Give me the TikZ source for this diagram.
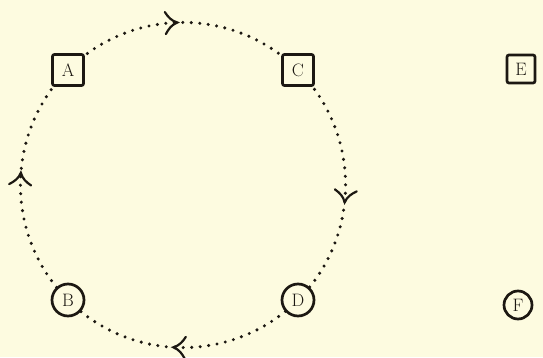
\documentclass[tikz,border=0pt]{standalone}
\usepackage{fontspec}
\usetikzlibrary{decorations.markings}
\definecolor{bg}{RGB}{253,251,224}
\definecolor{ink}{RGB}{28,24,18}
\pgfdeclarelayer{behind}
\pgfsetlayers{behind,main}
\tikzset{
  sqnode/.style={draw=ink, line width=2.7pt, rounded corners=2pt, fill=bg,
    minimum size=31pt, inner sep=0pt, text=ink, font=\fontsize{18}{18}\selectfont},
  rdnode/.style={circle, draw=ink, line width=2.7pt, fill=bg,
    minimum size=32pt, inner sep=0pt, text=ink, font=\fontsize{18}{18}\selectfont},
  dotline/.style={draw=ink, line width=3.4pt, line cap=round, dash pattern=on 0pt off 8.5pt},
  barb/.style={decoration={markings, mark=at position #1 with {
      \draw[ink, solid, line width=2.2pt, line cap=round]
        (-10pt,11pt) .. controls (-7pt,6pt) and (-4pt,2pt) .. (2pt,0pt)
        .. controls (-4pt,-2pt) and (-7pt,-6pt) .. (-10pt,-11pt);}},
      postaction=decorate}
}
\begin{document}
\begin{tikzpicture}[x=1pt,y=1pt]
\useasboundingbox (0,0) rectangle (543,357);
\node[sqnode] (a) at (68,287) {A};
\node[sqnode] (c) at (298,287) {C};
\node[sqnode, minimum size=28pt] (e) at (521,288) {E};
\node[rdnode] (b) at (68,57) {B};
\node[rdnode] (d) at (298,57) {D};
\node[rdnode, minimum size=28pt] (f) at (518,52) {F};
\begin{pgfonlayer}{behind}
\fill[bg] (0,0) rectangle (543,357);
\draw[dotline, barb=0.47] (a.center) to[out=45, in=135] (c.center);
\draw[dotline, barb=0.56] (c.center) to[out=-45, in=45] (d.center);
\draw[dotline, barb=0.53] (d.center) to[out=-135, in=-45] (b.center);
\draw[dotline, barb=0.54] (b.center) to[out=135, in=-135] (a.center);
\end{pgfonlayer}
\end{tikzpicture}
\end{document}
